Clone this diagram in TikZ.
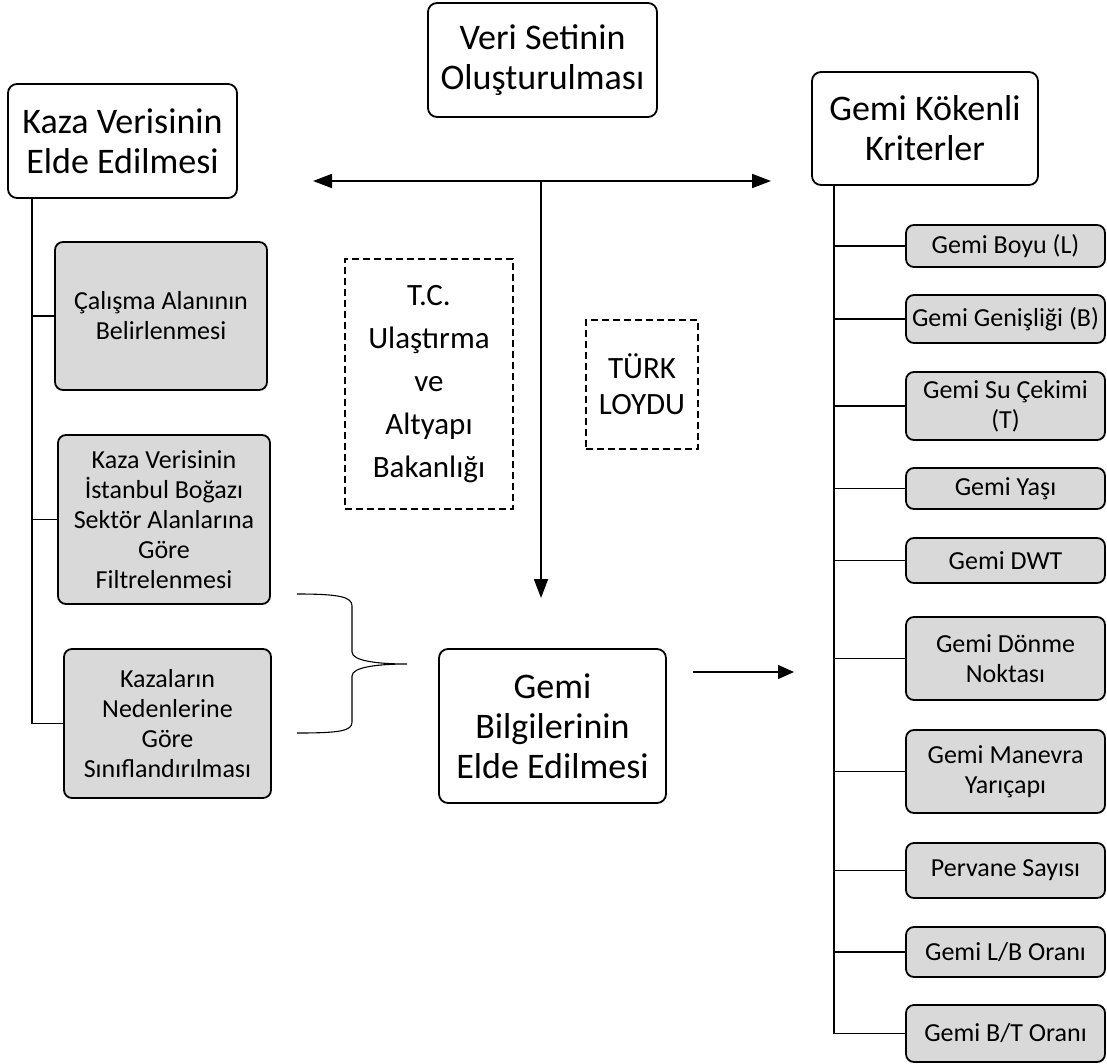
\documentclass[tikz,border=0pt]{standalone}
\usepackage{fontspec}
\setmainfont{Carlito}
\usetikzlibrary{arrows.meta}
\tikzset{
    anabox/.style={draw,line width=1.8pt,rounded corners=9pt,fill=white,align=center,inner sep=0pt,font=\fontsize{36}{40}\selectfont},
    altbox/.style={draw,line width=1.8pt,rounded corners=8pt,fill=gray!30,align=center,inner sep=0pt,font=\fontsize{26}{30}\selectfont},
    kurum/.style={draw,dash pattern=on 7pt off 4pt,line width=1.6pt,align=center,inner sep=0pt,font=\fontsize{31}{43}\selectfont},
    hat/.style={line width=1.8pt},
    ucok/.style={hat,-{Triangle[length=19pt,width=14pt]}}
}
\begin{document}
\begin{tikzpicture}[x=1pt,y=-1pt]
    \useasboundingbox (0,0) rectangle (1107,1064);
    % ana kutular
    \node[anabox,minimum width=229pt,minimum height=114pt] (veri) at (542.5,60) {Veri Setinin\\Oluşturulması};
    \node[anabox,minimum width=229pt,minimum height=114pt] (kaza) at (122.5,141) {Kaza Verisinin\\Elde Edilmesi};
    \node[anabox,minimum width=226pt,minimum height=113pt] (kriter) at (925,128.5) {Gemi Kökenli\\Kriterler};
    \node[anabox,minimum width=227pt,minimum height=154pt] (bilgi) at (552.5,726) {Gemi\\Bilgilerinin\\Elde Edilmesi};
    % kurumlar
    \node[kurum,minimum width=168pt,minimum height=250pt] (bakanlik) at (429,384) {T.C.\\Ulaştırma\\ve\\Altyapı\\Bakanlığı};
    \node[kurum,minimum width=112pt,minimum height=129pt,font=\fontsize{31}{36}\selectfont] (loyd) at (642,384.5) {TÜRK\\LOYDU};
    % kaza verisi adimlari
    \node[altbox,minimum width=212pt,minimum height=148pt] (adim1) at (161,316) {Çalışma Alanının\\Belirlenmesi};
    \node[altbox,minimum width=212pt,minimum height=169pt] (adim2) at (164,519.5) {Kaza Verisinin\\İstanbul Boğazı\\Sektör Alanlarına\\Göre\\Filtrelenmesi};
    \node[altbox,minimum width=207pt,minimum height=149pt] (adim3) at (167.5,723.5) {Kazaların\\Nedenlerine\\Göre\\Sınıflandırılması};
    % gemi kriterleri
    \node[altbox,minimum width=199pt,minimum height=42pt] (k1) at (1005.5,246) {Gemi Boyu (L)};
    \node[altbox,minimum width=199pt,minimum height=48pt] (k2) at (1005.5,319) {Gemi Genişliği (B)};
    \node[altbox,minimum width=199pt,minimum height=68pt] (k3) at (1005.5,406) {Gemi Su Çekimi\\(T)};
    \node[altbox,minimum width=199pt,minimum height=41pt] (k4) at (1005.5,488.5) {Gemi Yaşı};
    \node[altbox,minimum width=199pt,minimum height=45pt] (k5) at (1005.5,560.5) {Gemi DWT};
    \node[altbox,minimum width=199pt,minimum height=83pt] (k6) at (1005.5,658.5) {Gemi Dönme\\Noktası};
    \node[altbox,minimum width=199pt,minimum height=83pt] (k7) at (1005.5,771.5) {Gemi Manevra\\Yarıçapı};
    \node[altbox,minimum width=199pt,minimum height=55pt] (k8) at (1005.5,870.5) {Pervane Sayısı};
    \node[altbox,minimum width=199pt,minimum height=50pt] (k9) at (1005.5,952) {Gemi L/B Oranı};
    \node[altbox,minimum width=199pt,minimum height=57pt] (k10) at (1005.5,1033.5) {Gemi B/T Oranı};
    % oklar
    \coordinate (solok) at (313,181);
    \coordinate (sagok) at (771,181);
    \coordinate (dugum) at (541,181);
    \coordinate (asagi) at (541,598);
    \draw[hat,{Triangle[length=19pt,width=14pt]}-{Triangle[length=19pt,width=14pt]}] (solok) -- (sagok);
    \draw[ucok] (dugum) -- (asagi);
    \coordinate (sagbas) at (693,672);
    \coordinate (saguc) at (794,672);
    \draw[line width=1.4pt,-{Triangle[length=16pt,width=14pt]}] (sagbas) -- (saguc);
    % agac hatlari
    \coordinate (kzust) at (32,198);
    \draw[hat] (kzust) |- (adim3.west);
    \draw[hat] (kzust |- adim1.west) -- (adim1.west);
    \draw[hat] (kzust |- adim2.west) -- (adim2.west);
    \coordinate (krust) at (834,185);
    \draw[hat] (krust) |- (k10.west);
    \foreach \k in {k1,k2,k3,k4,k5,k6,k7,k8,k9}
        \draw[hat] (krust |- \k.west) -- (\k.west);
    % parantez
    \draw[line width=1.1pt] (297,594) .. controls (340,594) and (352,597) .. (352,606) -- (352,652)
        .. controls (352,661) and (378,664) .. (407,664)
        .. controls (378,664) and (352,667) .. (352,676) -- (352,722)
        .. controls (352,731) and (340,733) .. (297,733);
\end{tikzpicture}
\end{document}
